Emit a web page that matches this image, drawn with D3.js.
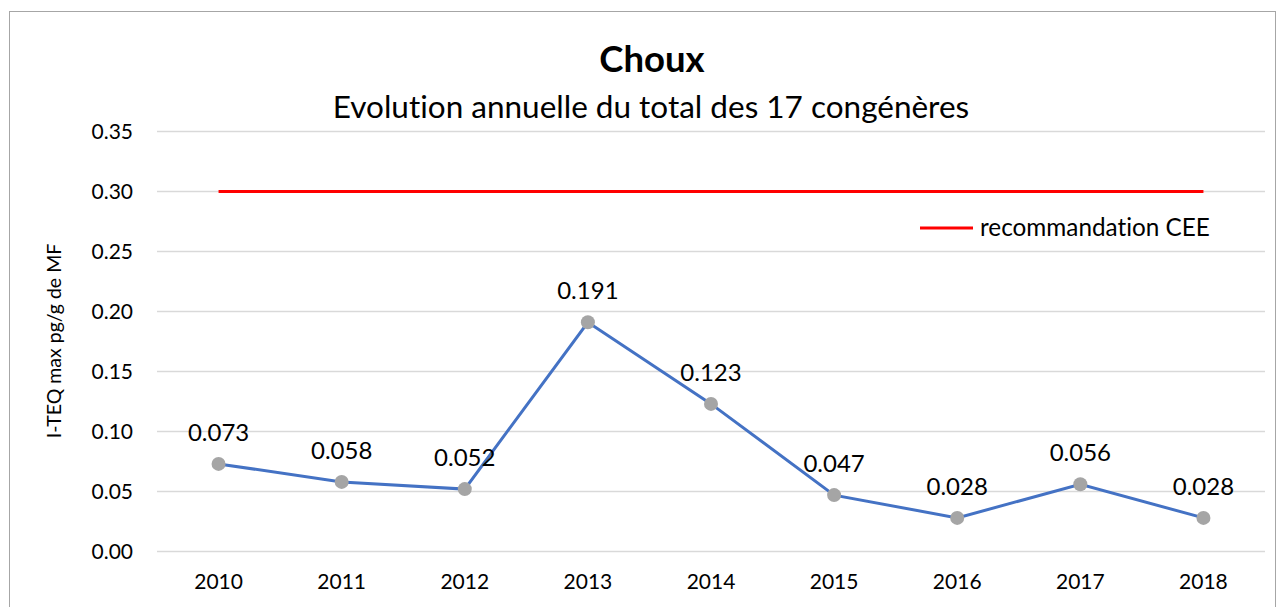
<!DOCTYPE html>
<html>
<head>
<meta charset="utf-8">
<script src="https://cdn.jsdelivr.net/npm/d3@7"></script>
<style>
  body { margin: 0; background: #fff; }
  svg { display: block; font-family: Lato, "Open Sans", sans-serif; font-variant-ligatures: none; }
</style>
</head>
<body>
<div id="chart"></div>
<script>
const years = ['2010', '2011', '2012', '2013', '2014', '2015', '2016', '2017', '2018'];
const values = [0.073, 0.058, 0.052, 0.191, 0.123, 0.047, 0.028, 0.056, 0.028];
const limit = [0.30, 0.30, 0.30, 0.30, 0.30, 0.30, 0.30, 0.30, 0.30];
const yTicks = [0, 0.05, 0.10, 0.15, 0.20, 0.25, 0.30, 0.35];

const width = 1284;
const height = 607;
const margin = { top: 131.5, right: 19, bottom: 55.5, left: 157 };

const svg = d3.select('#chart')
  .append('svg')
  .attr('width', width)
  .attr('height', height);

// chart frame
svg.append('rect')
  .attr('x', 9.5).attr('y', 11.5)
  .attr('width', 1266).attr('height', 620)
  .attr('fill', 'none')
  .attr('stroke', '#a6a6a6')
  .attr('stroke-width', 1);

const x = d3.scaleBand()
  .domain(years)
  .range([margin.left, width - margin.right]);

const y = d3.scaleLinear()
  .domain([0, 0.35])
  .range([height - margin.bottom, margin.top]);

const cx = d => x(d) + x.bandwidth() / 2;

// gridlines
svg.append('g')
  .selectAll('line')
  .data(yTicks)
  .join('line')
  .attr('x1', margin.left)
  .attr('x2', width - margin.right)
  .attr('y1', d => y(d))
  .attr('y2', d => y(d))
  .attr('stroke', '#d9d9d9')
  .attr('stroke-width', 1.3);

// y axis labels
const yAxis = svg.append('g')
  .attr('transform', `translate(${margin.left - 24},0)`)
  .call(d3.axisLeft(y).tickValues(yTicks).tickFormat(d3.format('.2f')).tickSize(0).tickPadding(0));
yAxis.select('.domain').remove();
yAxis.selectAll('text')
  .attr('font-size', 21)
  .attr('fill', '#000')
  .attr('font-family', 'Lato, sans-serif');

// x axis labels
const xAxis = svg.append('g')
  .attr('transform', `translate(0,${height - margin.bottom})`)
  .call(d3.axisBottom(x).tickSize(0).tickPadding(23));
xAxis.select('.domain').remove();
xAxis.selectAll('text')
  .attr('font-size', 21)
  .attr('fill', '#000')
  .attr('font-family', 'Lato, sans-serif');

// reference line
svg.append('path')
  .datum(limit)
  .attr('fill', 'none')
  .attr('stroke', '#ff0000')
  .attr('stroke-width', 3)
  .attr('d', d3.line().x((d, i) => cx(years[i])).y(d => y(d)));

// data line
svg.append('path')
  .datum(values)
  .attr('fill', 'none')
  .attr('stroke', '#4472c4')
  .attr('stroke-width', 3)
  .attr('d', d3.line().x((d, i) => cx(years[i])).y(d => y(d)));

svg.append('g')
  .attr('fill', '#a5a5a5')
  .selectAll('circle')
  .data(values)
  .join('circle')
  .attr('cx', (d, i) => cx(years[i]))
  .attr('cy', d => y(d))
  .attr('r', 7);

// data labels
svg.append('g')
  .selectAll('text')
  .data(values)
  .join('text')
  .attr('x', (d, i) => cx(years[i]))
  .attr('y', d => y(d) - 23)
  .attr('text-anchor', 'middle')
  .attr('font-size', 24)
  .attr('fill', '#000')
  .text(d => d3.format('.3f')(d));

// legend
svg.append('line')
  .attr('x1', 920).attr('x2', 973)
  .attr('y1', 228).attr('y2', 228)
  .attr('stroke', '#ff0000')
  .attr('stroke-width', 3);
svg.append('text')
  .attr('x', 980).attr('y', 236)
  .attr('font-size', 24.3)
  .attr('fill', '#000')
  .text('recommandation CEE');

// titles
svg.append('text')
  .attr('x', 652).attr('y', 72)
  .attr('text-anchor', 'middle')
  .attr('font-size', 36.5)
  .attr('font-weight', 'bold')
  .text('Choux');
svg.append('text')
  .attr('x', 651).attr('y', 118)
  .attr('text-anchor', 'middle')
  .attr('font-size', 31.5)
  .text('Evolution annuelle du total des 17 congénères');

// y axis title
svg.append('text')
  .attr('transform', 'translate(61,341) rotate(-90)')
  .attr('text-anchor', 'middle')
  .attr('font-size', 19.5)
  .text('I-TEQ max pg/g de MF');
</script>
</body>
</html>
